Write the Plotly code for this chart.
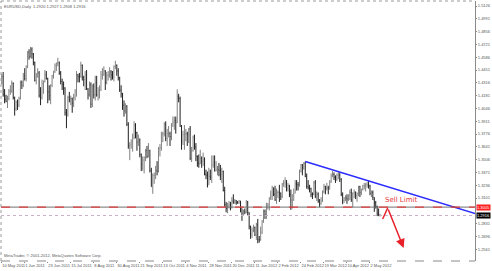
import plotly.graph_objects as go
import pandas as pd

# ---- data: EURUSD daily bars, 10 May 2011 .. 11 May 2012 (weekdays) ----
dates = pd.bdate_range("2011-05-10", "2012-05-11")

opens = [
 1.4320,1.4380,1.4190,1.4140,1.4120,1.4150,1.4230,1.4230,1.4310,1.4160,1.4040,1.4110,1.4080,1.4150,1.4320,1.4290,
 1.4390,1.4360,1.4490,1.4640,1.4590,1.4670,1.4620,1.4530,1.4340,1.4390,1.4420,1.4180,1.4160,1.4310,1.4330,1.4400,1.4360,1.4220,1.4180,1.4290,1.4390,1.4440,
 1.4500,1.4520,1.4530,1.4420,1.4330,1.4300,1.4260,1.4000,1.3980,1.4160,1.4140,1.4150,1.4100,1.4160,1.4220,1.4400,1.4380,1.4380,1.4500,1.4370,1.4350,
 1.4400,1.4250,1.4190,1.4300,1.4090,1.4280,1.4190,1.4320,1.4190,1.4230,1.4240,1.4400,1.4400,1.4440,1.4320,1.4390,1.4400,1.4430,1.4400,1.4380,1.4490,1.4500,1.4440,
 1.4370,1.4240,1.4200,1.4080,1.4020,1.4070,1.3880,1.3650,1.3660,1.3700,1.3740,1.3870,1.3790,1.3690,1.3710,1.3560,1.3460,1.3500,1.3530,1.3600,1.3540,1.3600,
 1.3390,1.3220,1.3340,1.3340,1.3390,1.3380,1.3620,1.3630,1.3770,1.3780,1.3880,1.3730,1.3780,1.3780,1.3750,1.3880,1.3900,1.3920,1.3900,1.4170,1.4150,
 1.3860,1.3700,1.3770,1.3780,1.3780,1.3770,1.3830,1.3520,1.3600,1.3740,1.3640,1.3540,1.3470,1.3460,1.3520,1.3490,1.3510,1.3350,1.3340,1.3240,1.3330,1.3320,
 1.3450,1.3470,1.3390,1.3400,1.3400,1.3390,1.3350,1.3380,1.3180,1.3030,1.2990,1.3020,1.3030,1.3000,1.3070,1.3050,1.3070,1.3050,1.3050,1.3070,1.2990,1.2940,
 1.2960,1.2950,1.3060,1.2950,1.2800,1.2720,1.2760,1.2790,1.2710,1.2820,1.2660,1.2660,1.2740,1.2850,1.2960,1.2930,1.3020,1.3030,1.3100,1.3120,1.3210,1.3140,
 1.3080,1.3160,1.3160,1.3150,1.3120,1.3250,1.3260,1.3280,1.3200,1.3230,1.3140,1.3080,1.3130,1.3150,1.3250,1.3240,1.3240,1.3380,1.3450,1.3420,1.3465,
 1.3330,1.3220,1.3210,1.3200,1.3140,1.3140,1.3260,1.3120,1.3140,1.3070,1.3040,1.3070,1.3170,1.3220,1.3200,1.3210,1.3200,1.3270,1.3340,1.3350,1.3320,1.3300,
 1.3340,1.3340,1.3300,1.3140,1.3070,1.3100,1.3100,1.3090,1.3130,1.3160,1.3080,1.3150,1.3160,1.3130,1.3150,1.3220,1.3160,1.3190,1.3230,1.3230,1.3240,
 1.3240,1.3230,1.3150,1.3160,1.3080,1.3050,1.3010,1.2940,1.2920,
]
highs = [
 1.4410,1.4430,1.4250,1.4190,1.4180,1.4250,1.4290,1.4340,1.4320,1.4170,1.4130,1.4140,1.4170,1.4340,1.4340,1.4420,
 1.4470,1.4500,1.4650,1.4670,1.4695,1.4690,1.4630,1.4540,1.4420,1.4470,1.4440,1.4270,1.4350,1.4340,1.4450,1.4440,1.4370,1.4290,1.4300,1.4400,1.4440,1.4520,
 1.4530,1.4580,1.4540,1.4440,1.4360,1.4330,1.4270,1.4040,1.4180,1.4220,1.4180,1.4160,1.4200,1.4250,1.4440,1.4410,1.4420,1.4538,1.4510,1.4390,1.4440,
 1.4450,1.4260,1.4330,1.4320,1.4300,1.4310,1.4390,1.4390,1.4270,1.4290,1.4440,1.4470,1.4490,1.4450,1.4430,1.4440,1.4480,1.4450,1.4440,1.4500,1.4548,1.4510,1.4470,
 1.4380,1.4290,1.4210,1.4130,1.4100,1.4080,1.3900,1.3690,1.3720,1.3780,1.3910,1.3890,1.3800,1.3770,1.3730,1.3570,1.3540,1.3540,1.3620,1.3650,1.3680,1.3610,
 1.3420,1.3360,1.3370,1.3440,1.3490,1.3640,1.3670,1.3800,1.3800,1.3900,1.3910,1.3830,1.3860,1.3800,1.3890,1.3960,1.3960,1.3960,1.4247,1.4200,1.4170,
 1.3870,1.3810,1.3870,1.3830,1.3800,1.3840,1.3860,1.3640,1.3760,1.3770,1.3680,1.3550,1.3560,1.3610,1.3540,1.3580,1.3530,1.3400,1.3380,1.3420,1.3400,1.3550,
 1.3550,1.3550,1.3490,1.3440,1.3470,1.3450,1.3420,1.3390,1.3220,1.3060,1.3050,1.3070,1.3060,1.3110,1.3140,1.3090,1.3080,1.3070,1.3080,1.3070,1.2990,1.2980,
 1.2990,1.3080,1.3070,1.2950,1.2810,1.2790,1.2820,1.2800,1.2840,1.2880,1.2700,1.2800,1.2870,1.2980,1.2980,1.3050,1.3050,1.3110,1.3180,1.3230,1.3210,1.3230,
 1.3200,1.3180,1.3240,1.3160,1.3260,1.3290,1.3320,1.3290,1.3260,1.3240,1.3190,1.3140,1.3200,1.3290,1.3290,1.3270,1.3400,1.3460,1.3460,1.3480,1.3486,
 1.3360,1.3290,1.3240,1.3210,1.3160,1.3280,1.3290,1.3170,1.3160,1.3090,1.3110,1.3180,1.3250,1.3230,1.3260,1.3230,1.3290,1.3360,1.3385,1.3370,1.3340,1.3360,
 1.3380,1.3370,1.3310,1.3160,1.3110,1.3130,1.3140,1.3140,1.3190,1.3200,1.3160,1.3190,1.3170,1.3160,1.3230,1.3230,1.3200,1.3240,1.3260,1.3260,1.3270,
 1.3283,1.3240,1.3180,1.3180,1.3110,1.3070,1.3020,1.2990,1.2927,
]
lows = [
 1.4300,1.4170,1.4100,1.4110,1.4050,1.4130,1.4190,1.4210,1.4140,1.3970,1.4020,1.4030,1.4060,1.4140,1.4250,1.4270,
 1.4340,1.4330,1.4470,1.4560,1.4580,1.4570,1.4500,1.4330,1.4300,1.4370,1.4160,1.4080,1.4140,1.4200,1.4320,1.4350,1.4100,1.4130,1.4090,1.4270,1.4360,1.4420,
 1.4440,1.4490,1.4400,1.4300,1.4240,1.4190,1.3970,1.3837,1.3960,1.4110,1.4080,1.4000,1.4060,1.4130,1.4170,1.4320,1.4320,1.4370,1.4340,1.4280,1.4240,
 1.4240,1.4140,1.4170,1.4051,1.4060,1.4150,1.4130,1.4170,1.4130,1.4150,1.4230,1.4350,1.4390,1.4240,1.4300,1.4340,1.4370,1.4340,1.4350,1.4330,1.4460,1.4390,1.4340,
 1.4220,1.4160,1.4030,1.3960,1.3990,1.3860,1.3620,1.3500,1.3620,1.3590,1.3720,1.3730,1.3600,1.3650,1.3530,1.3385,1.3390,1.3360,1.3490,1.3520,1.3530,1.3370,
 1.3220,1.3145,1.3250,1.3300,1.3340,1.3370,1.3540,1.3600,1.3690,1.3750,1.3700,1.3650,1.3740,1.3650,1.3710,1.3850,1.3820,1.3780,1.3890,1.4110,1.3850,
 1.3610,1.3660,1.3610,1.3700,1.3650,1.3680,1.3500,1.3480,1.3590,1.3610,1.3490,1.3430,1.3420,1.3460,1.3420,1.3440,1.3340,1.3300,1.3212,1.3240,1.3290,1.3260,
 1.3420,1.3380,1.3380,1.3340,1.3330,1.3290,1.3260,1.3170,1.3010,1.2950,1.2940,1.2990,1.2970,1.2990,1.3040,1.3040,1.3030,1.3040,1.3040,1.2950,1.2860,1.2920,
 1.2930,1.2940,1.2920,1.2770,1.2670,1.2680,1.2740,1.2700,1.2660,1.2624,1.2630,1.2650,1.2720,1.2840,1.2880,1.2880,1.2980,1.2970,1.3080,1.3080,1.3120,1.3070,
 1.3040,1.3100,1.3060,1.3080,1.3100,1.3220,1.3210,1.3170,1.3170,1.3110,1.2975,1.2990,1.3070,1.3150,1.3180,1.3180,1.3220,1.3370,1.3340,1.3400,1.3320,
 1.3200,1.3190,1.3160,1.3110,1.3090,1.3130,1.3100,1.3070,1.3050,1.3003,1.3030,1.3060,1.3150,1.3140,1.3180,1.3140,1.3190,1.3260,1.3320,1.3290,1.3260,1.3280,
 1.3300,1.3270,1.3120,1.3035,1.3050,1.3070,1.3040,1.3070,1.3080,1.3060,1.3000,1.3100,1.3090,1.3060,1.3120,1.3110,1.3130,1.3180,1.3190,1.3170,1.3210,
 1.3200,1.3130,1.3110,1.3080,1.2955,1.2990,1.2910,1.2910,1.2908,
]
closes = [
 1.4380,1.4190,1.4140,1.4120,1.4150,1.4230,1.4230,1.4310,1.4160,1.4040,1.4110,1.4080,1.4150,1.4320,1.4290,1.4390,
 1.4360,1.4490,1.4640,1.4590,1.4670,1.4620,1.4530,1.4340,1.4390,1.4420,1.4180,1.4160,1.4310,1.4330,1.4400,1.4360,1.4220,1.4180,1.4290,1.4390,1.4440,1.4500,
 1.4520,1.4530,1.4420,1.4330,1.4300,1.4260,1.4000,1.3980,1.4160,1.4140,1.4150,1.4100,1.4160,1.4220,1.4400,1.4380,1.4380,1.4500,1.4370,1.4350,1.4400,
 1.4250,1.4190,1.4300,1.4090,1.4280,1.4190,1.4320,1.4190,1.4230,1.4240,1.4400,1.4400,1.4440,1.4320,1.4390,1.4400,1.4430,1.4400,1.4380,1.4490,1.4500,1.4440,1.4370,
 1.4240,1.4200,1.4080,1.4020,1.4070,1.3880,1.3650,1.3660,1.3700,1.3740,1.3870,1.3790,1.3690,1.3710,1.3560,1.3460,1.3500,1.3530,1.3600,1.3540,1.3600,1.3390,
 1.3220,1.3340,1.3340,1.3390,1.3380,1.3620,1.3630,1.3770,1.3780,1.3880,1.3730,1.3780,1.3780,1.3750,1.3880,1.3900,1.3920,1.3900,1.4170,1.4150,1.3860,
 1.3700,1.3770,1.3780,1.3780,1.3770,1.3830,1.3520,1.3600,1.3740,1.3640,1.3540,1.3470,1.3460,1.3520,1.3490,1.3510,1.3350,1.3340,1.3240,1.3330,1.3320,1.3450,
 1.3470,1.3390,1.3400,1.3400,1.3390,1.3350,1.3380,1.3180,1.3030,1.2990,1.3020,1.3030,1.3000,1.3070,1.3050,1.3070,1.3050,1.3050,1.3070,1.2990,1.2940,1.2960,
 1.2950,1.3060,1.2950,1.2800,1.2720,1.2760,1.2790,1.2710,1.2820,1.2660,1.2660,1.2740,1.2850,1.2960,1.2930,1.3020,1.3030,1.3100,1.3120,1.3210,1.3140,1.3080,
 1.3160,1.3160,1.3150,1.3120,1.3250,1.3260,1.3280,1.3200,1.3230,1.3140,1.3080,1.3130,1.3150,1.3250,1.3240,1.3240,1.3380,1.3450,1.3420,1.3465,1.3330,
 1.3220,1.3210,1.3200,1.3140,1.3140,1.3260,1.3120,1.3140,1.3070,1.3040,1.3070,1.3170,1.3220,1.3200,1.3210,1.3200,1.3270,1.3340,1.3350,1.3320,1.3300,1.3340,
 1.3340,1.3300,1.3140,1.3070,1.3100,1.3100,1.3090,1.3130,1.3160,1.3080,1.3150,1.3160,1.3130,1.3150,1.3220,1.3160,1.3190,1.3230,1.3230,1.3240,1.3240,
 1.3230,1.3150,1.3160,1.3110,1.3050,1.3010,1.2940,1.2925,1.2916,
]

# axis labels
date_labels = ["10 May 2011", "1 Jun 2011", "23 Jun 2011", "15 Jul 2011", "8 Aug 2011",
               "30 Aug 2011", "21 Sep 2011", "13 Oct 2011", "4 Nov 2011", "28 Nov 2011",
               "20 Dec 2011", "11 Jan 2012", "2 Feb 2012", "24 Feb 2012", "19 Mar 2012",
               "10 Apr 2012", "2 May 2012"]
price_ticks = [1.5126, 1.4991, 1.4856, 1.4721, 1.4586, 1.4451, 1.4316, 1.4181, 1.4046,
               1.3911, 1.3776, 1.3641, 1.3506, 1.3371, 1.3236, 1.3101, 1.2831,
               1.2696, 1.2561, 1.2426]

# drawn objects
sell_limit = 1.3005
bid_price = 1.2916
trend_bars = [211, 330]            # bar index of trendline ends
trend_prices = [1.3486, 1.2932]
arrow_bars = [264.8, 268.3, 279.4]
arrow_prices = [1.2879, 1.2996, 1.2574]
title_text = "EURUSD,Daily  1.2920 1.2927 1.2908 1.2916"
copyright_text = "MetaTrader, \u00a9 2001-2012, MetaQuotes Software Corp."

SMALL = "Liberation Sans Narrow, Liberation Sans, Arial Narrow, sans-serif"

idx = list(range(len(dates)))
date_strs = [d.strftime("%-d %b %Y") for d in dates]
tick_idx = [date_strs.index(l) if l in date_strs else 0 for l in date_labels]

fig = go.Figure()
fig.add_trace(go.Ohlc(
    x=idx, open=opens, high=highs, low=lows, close=closes,
    increasing=dict(line=dict(color="#808080", width=1)),
    decreasing=dict(line=dict(color="#202020", width=1)),
    tickwidth=0.3, hoverinfo="skip", showlegend=False))

# trendline
fig.add_trace(go.Scatter(x=trend_bars, y=trend_prices, mode="lines",
                         line=dict(color="#2b2bff", width=1.5),
                         hoverinfo="skip", showlegend=False))
# arrow first segments
fig.add_trace(go.Scatter(x=arrow_bars[:2], y=arrow_prices[:2], mode="lines",
                         line=dict(color="#e8202a", width=1.5),
                         hoverinfo="skip", showlegend=False))

shapes = [
    dict(type="line", xref="paper", yref="y", x0=0, x1=1, y0=sell_limit, y1=sell_limit,
         line=dict(color="#707070", width=1)),
    dict(type="line", xref="paper", yref="y", x0=0, x1=1, y0=sell_limit, y1=sell_limit,
         line=dict(color="#ee2222", width=1, dash="dash")),
    dict(type="line", xref="paper", yref="y", x0=0, x1=1, y0=bid_price, y1=bid_price,
         line=dict(color="#c8b0c8", width=1, dash="dot")),
    dict(type="line", xref="paper", yref="paper", x0=0, x1=0, y0=0, y1=1,
         line=dict(color="#9a9a9a", width=1, dash="dot")),
    dict(type="line", xref="paper", yref="paper", x0=0, x1=1, y0=1, y1=1,
         line=dict(color="#9a9a9a", width=1, dash="dot")),
    dict(type="line", xref="paper", yref="paper", x0=0, x1=1, y0=0, y1=0,
         line=dict(color="#8a8a8a", width=1, dash="dash")),
]

annotations = [
    dict(x=arrow_bars[2], y=arrow_prices[2], ax=arrow_bars[1], ay=arrow_prices[1],
         xref="x", yref="y", axref="x", ayref="y", text="", showarrow=True,
         arrowhead=2, arrowsize=1.2, arrowwidth=1.5, arrowcolor="#e8202a"),
    dict(x=277.3, y=1.3080, xref="x", yref="y", text="Sell Limit", showarrow=False,
         font=dict(family="DejaVu Sans", size=7, color="#e83a3a")),
    dict(x=0.002, y=0.998, xref="paper", yref="paper", xanchor="left", yanchor="top",
         text=title_text, showarrow=False,
         font=dict(family=SMALL, size=4, color="#555555")),
    dict(x=0.002, y=0.004, xref="paper", yref="paper", xanchor="left", yanchor="bottom",
         text=copyright_text, showarrow=False,
         font=dict(family=SMALL, size=4, color="#555555")),
    dict(x=1.0, y=sell_limit, xref="paper", yref="y", xanchor="left", yanchor="middle",
         xshift=1, text=f"{sell_limit:.4f}", showarrow=False, bgcolor="#ff2020", borderpad=0,
         font=dict(family=SMALL, size=4, color="white")),
    dict(x=1.0, y=bid_price, xref="paper", yref="y", xanchor="left", yanchor="middle",
         xshift=1, text=f"{bid_price:.4f}", showarrow=False, bgcolor="#000000", borderpad=0,
         font=dict(family=SMALL, size=4, color="white")),
]

fig.update_layout(
    width=492, height=271,
    margin=dict(l=1, r=17, t=1, b=10, autoexpand=False),
    paper_bgcolor="white", plot_bgcolor="white",
    shapes=shapes, annotations=annotations,
    xaxis=dict(range=[-0.5, 329], showgrid=False, zeroline=False, showline=False,
               rangeslider=dict(visible=False),
               tickmode="array", tickvals=tick_idx, ticktext=date_labels,
               tickangle=0,
               ticks="outside", ticklen=1, tickcolor="#8a8a8a",
               ticklabelposition="outside right", ticklabelstandoff=0,
               tickfont=dict(family=SMALL, size=4, color="#555555"),
               automargin=False, fixedrange=True),
    yaxis=dict(range=[1.24365, 1.51788], side="right", showgrid=False, zeroline=False,
               showline=True, linecolor="#8a8a8a", linewidth=1,
               tickmode="array", tickvals=price_ticks,
               ticktext=[f"{v:.4f}" for v in price_ticks],
               ticks="outside", ticklen=1, tickcolor="#8a8a8a", ticklabelstandoff=0,
               tickfont=dict(family=SMALL, size=4, color="#555555"),
               automargin=False, fixedrange=True),
)

fig.write_html("out.html")
